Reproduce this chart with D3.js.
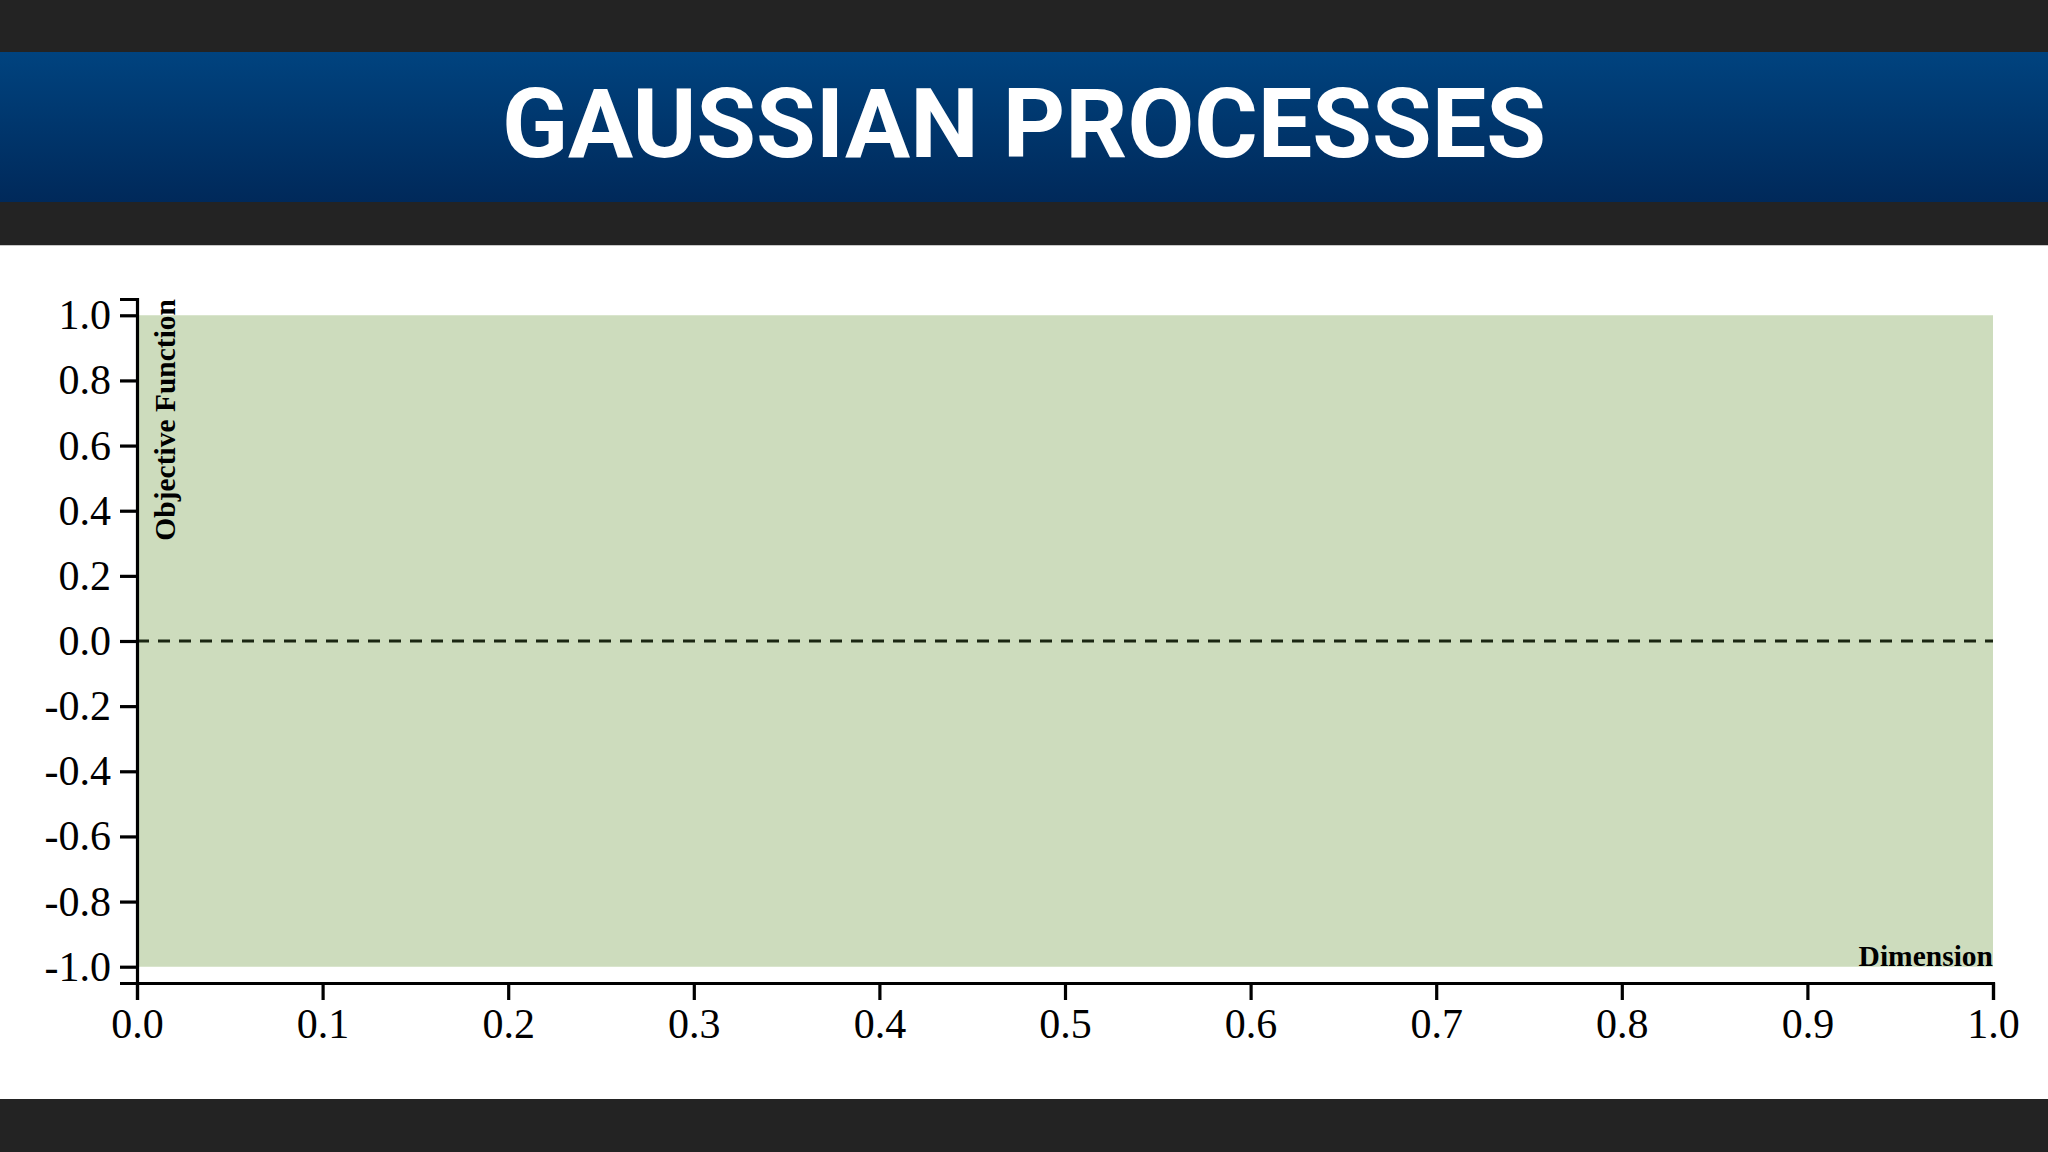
<!DOCTYPE html>
<html>
<head>
<meta charset="utf-8">
<script src="https://cdn.jsdelivr.net/npm/d3@7"></script>
<style>
  body { margin: 0; background: #232323; }
  svg { display: block; }
</style>
</head>
<body>
<script>
// prior of the gaussian process: mean 0, band of +/- 1
var dims = [0, 1];
var meanVals = [0, 0];
var upperVals = [1, 1];
var lowerVals = [-1, -1];
var xTicks = [0, 0.1, 0.2, 0.3, 0.4, 0.5, 0.6, 0.7, 0.8, 0.9, 1.0];
var yTicks = [-1.0, -0.8, -0.6, -0.4, -0.2, 0.0, 0.2, 0.4, 0.6, 0.8, 1.0];

var W = 2048, H = 1152;
var svg = d3.select("body").append("svg")
    .attr("width", W).attr("height", H);

var defs = svg.append("defs");
var grad = defs.append("linearGradient").attr("id", "hdr")
    .attr("x1", 0).attr("y1", 0).attr("x2", 0).attr("y2", 1);
grad.append("stop").attr("offset", "0%").attr("stop-color", "#00437f");
grad.append("stop").attr("offset", "100%").attr("stop-color", "#00295a");

// page frame
svg.append("rect").attr("width", W).attr("height", H).attr("fill", "#232323");
svg.append("rect").attr("y", 52).attr("width", W).attr("height", 150).attr("fill", "url(#hdr)");
svg.append("rect").attr("y", 245).attr("width", W).attr("height", 854).attr("fill", "#ffffff");
svg.append("line").attr("x1", 0).attr("x2", W).attr("y1", 245.5).attr("y2", 245.5)
    .attr("stroke", "#c8c8c8").attr("stroke-width", 1);

svg.append("text")
    .attr("x", W / 2).attr("y", 157)
    .attr("text-anchor", "middle")
    .attr("fill", "#ffffff")
    .style("font-family", "Roboto")
    .style("font-weight", 700)
    .style("font-size", "97px")
    .text("GAUSSIAN PROCESSES");

// chart
var x = d3.scaleLinear().domain([0, 1]).range([137, 1993]);
var y = d3.scaleLinear().domain([-1.05, 1.05]).range([983, 299]);

var chart = svg.append("g");

var area = d3.area()
    .x(function(d, i) { return x(dims[i]); })
    .y0(function(d, i) { return y(lowerVals[i]); })
    .y1(function(d, i) { return y(upperVals[i]); });

chart.append("path")
    .datum(dims)
    .attr("d", area)
    .attr("fill", "#cddcbd");

var line = d3.line()
    .x(function(d, i) { return x(dims[i]); })
    .y(function(d) { return y(d); });

chart.append("path")
    .datum(meanVals)
    .attr("d", line)
    .attr("fill", "none")
    .attr("stroke", "#1b2612")
    .attr("stroke-width", 3)
    .attr("stroke-dasharray", "12,9");

var fmt = function(d) { return d3.format(".1f")(d).replace("\u2212", "-"); };

var xAxis = d3.axisBottom(x).tickValues(xTicks).tickFormat(fmt)
    .tickSize(17).tickPadding(8);
var yAxis = d3.axisLeft(y).tickValues(yTicks).tickFormat(fmt)
    .tickSize(17).tickPadding(9);

var gx = chart.append("g")
    .attr("transform", "translate(0," + y.range()[0] + ")")
    .call(xAxis);
var gy = chart.append("g")
    .attr("transform", "translate(" + x.range()[0] + ",0)")
    .call(yAxis);

[gx, gy].forEach(function(g) {
    g.selectAll("path, line").attr("stroke", "#000").attr("stroke-width", 3.2);
    g.selectAll("text")
        .attr("fill", "#000")
        .style("font-family", "'Liberation Serif', 'Times New Roman', serif")
        .style("font-size", "42px");
});

gx.append("text")
    .attr("x", x.range()[1])
    .attr("y", -17)
    .attr("text-anchor", "end")
    .attr("fill", "#000")
    .style("font-family", "'Liberation Serif', 'Times New Roman', serif")
    .style("font-weight", 700)
    .style("font-size", "29.5px")
    .text("Dimension");

gy.append("text")
    .attr("transform", "rotate(-90)")
    .attr("x", -y.range()[1])
    .attr("y", 17)
    .attr("dy", ".71em")
    .attr("text-anchor", "end")
    .attr("fill", "#000")
    .style("font-family", "'Liberation Serif', 'Times New Roman', serif")
    .style("font-weight", 700)
    .style("font-size", "29.5px")
    .text("Objective Function");
</script>
</body>
</html>
